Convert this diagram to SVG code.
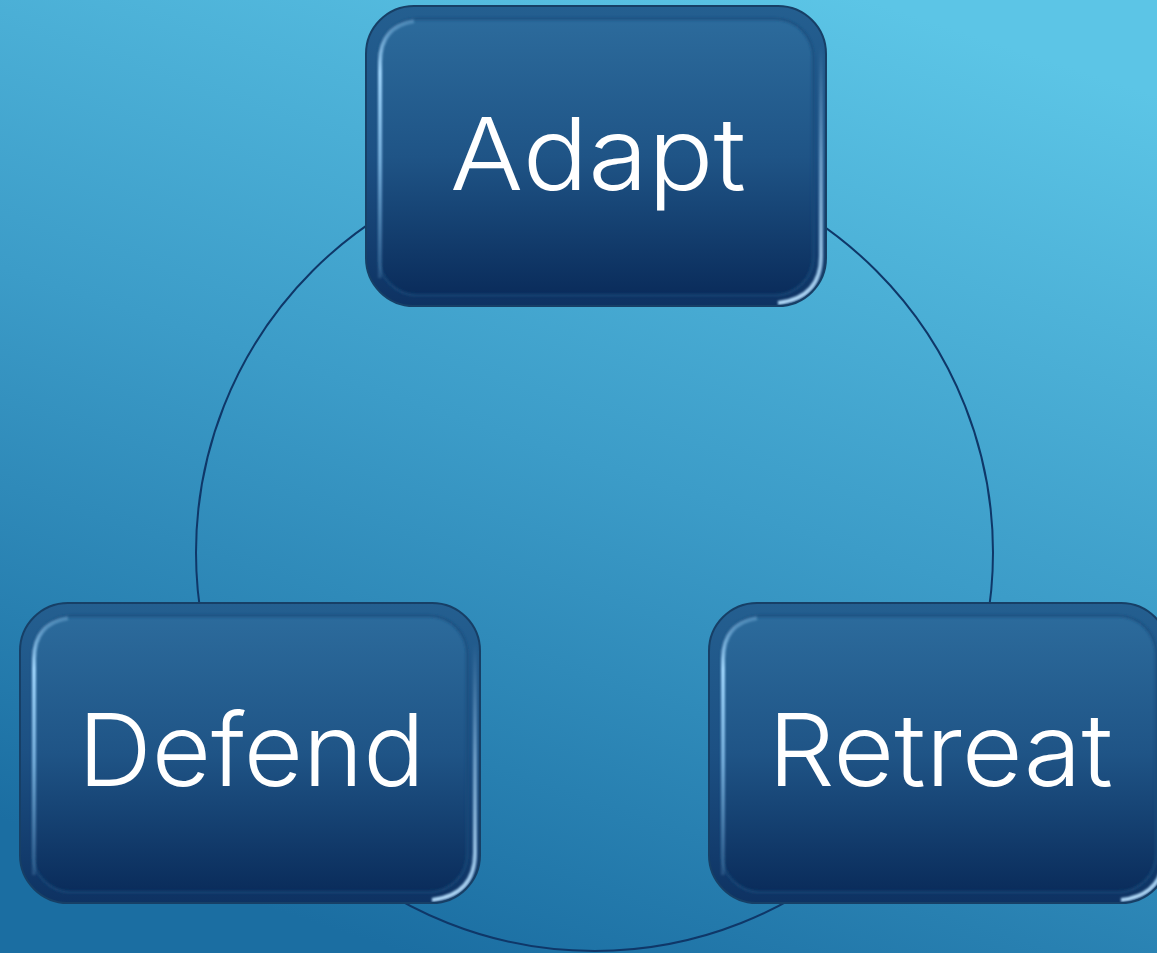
<svg xmlns="http://www.w3.org/2000/svg" width="1157" height="953" viewBox="0 0 1157 953">
  <defs>
    <linearGradient id="bg" x1="0.75" y1="0" x2="0.35" y2="1">
      <stop offset="0" stop-color="#5cc5e6"/>
      <stop offset="0.5" stop-color="#3c9cc8"/>
      <stop offset="1" stop-color="#1b6ea2"/>
    </linearGradient>
    <linearGradient id="face" x1="0" y1="0" x2="0" y2="1">
      <stop offset="0" stop-color="#2c6b9c"/>
      <stop offset="0.5" stop-color="#1f5486"/>
      <stop offset="1" stop-color="#0a2c5b"/>
    </linearGradient>
    <linearGradient id="ring" x1="0" y1="0" x2="0" y2="1">
      <stop offset="0" stop-color="#245f90"/>
      <stop offset="0.5" stop-color="#1c5083"/>
      <stop offset="1" stop-color="#0e3262"/>
    </linearGradient>
    <linearGradient id="hiLeft" x1="0" y1="0" x2="0" y2="1">
      <stop offset="0" stop-color="#a0d6fd" stop-opacity="0.3"/>
      <stop offset="0.2" stop-color="#a0d6fd" stop-opacity="1"/>
      <stop offset="0.55" stop-color="#8cc6f2" stop-opacity="0.8"/>
      <stop offset="1" stop-color="#7ab4e4" stop-opacity="0.2"/>
    </linearGradient>
    <linearGradient id="hiRight" x1="0" y1="0" x2="0" y2="1">
      <stop offset="0" stop-color="#9fcdf2" stop-opacity="0"/>
      <stop offset="0.45" stop-color="#9fcdf2" stop-opacity="0.6"/>
      <stop offset="1" stop-color="#b0d9f8" stop-opacity="1"/>
    </linearGradient>
    <filter id="soft" x="-10%" y="-10%" width="120%" height="120%">
      <feGaussianBlur stdDeviation="1.1"/>
    </filter>
    <!-- one bevelled tile, 460 x 300, drawn at the origin -->
    <g id="tile">
      <rect x="0" y="0" width="460" height="300" rx="48" fill="url(#ring)"/>
      <rect x="13" y="13" width="434" height="276" rx="38" fill="url(#face)"/>
      <rect x="13" y="13" width="434" height="276" rx="38" fill="none" stroke="#1a4b7c" stroke-width="3" stroke-opacity="0.6" filter="url(#soft)"/>
      <path d="M 14 272 L 14 56 Q 14 20 48 15" fill="none" stroke="url(#hiLeft)" stroke-width="4" filter="url(#soft)"/>
      <path d="M 455 40 L 455 250 Q 455 292 412 297" fill="none" stroke="url(#hiRight)" stroke-width="4" filter="url(#soft)"/>
      <rect x="0" y="0" width="460" height="300" rx="48" fill="none" stroke="#173f66" stroke-width="2"/>
    </g>
  </defs>
  <style>
    .label { font-family: Inter, "Liberation Sans", Arial, sans-serif; font-weight: 300; font-size: 101px; fill: #ffffff; text-anchor: start; }
  </style>

  <rect width="1157" height="953" fill="url(#bg)"/>

  <g id="connectors">
    <circle cx="594.5" cy="552.5" r="398.5" fill="none" stroke="#0f3768" stroke-width="2"/>
  </g>

  <g id="node-adapt">
    <use href="#tile" x="366" y="6"/>
    <text class="label" x="450" y="190" textLength="296" lengthAdjust="spacingAndGlyphs">Adapt</text>
  </g>

  <g id="node-defend">
    <use href="#tile" x="20" y="603"/>
    <text class="label" x="78" y="786" textLength="347" lengthAdjust="spacingAndGlyphs">Defend</text>
  </g>

  <g id="node-retreat">
    <use href="#tile" x="709" y="603"/>
    <text class="label" x="768" y="786" textLength="345" lengthAdjust="spacingAndGlyphs">Retreat</text>
  </g>
</svg>
